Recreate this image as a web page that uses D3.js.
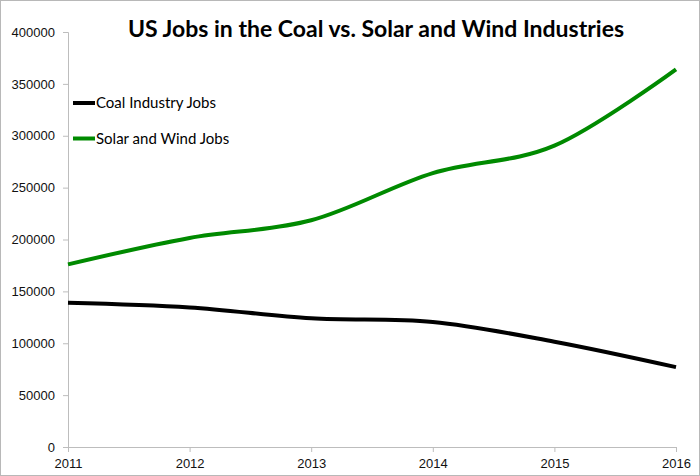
<!DOCTYPE html>
<style>
    body{ margin:0; }
    svg{ font-family:Lato,"Open Sans",sans-serif; }
</style>
<svg width="700" height="476"></svg>
<script src="https://d3js.org/d3.v7.min.js"></script>
<script>
    var years=[2011,2012,2013,2014,2015,2016];
    var coalJobs=[139000,134500,124000,120500,101500,77000];
    var solarWindJobs=[176000,201500,218500,264000,290500,364000];
    var yTicks=[0,50000,100000,150000,200000,250000,300000,350000,400000];
    var seriesNames=["Coal Industry Jobs","Solar and Wind Jobs"];
    var seriesColors=["#000000","#008a00"];

    var svg=d3.select("svg");
    var width=700,height=476;
    var margin={left:68,right:24,top:32,bottom:29};

    svg.append("rect")
        .attr("x",0.5).attr("y",0.5)
        .attr("width",width-1).attr("height",height-1)
        .attr("fill","#fff").attr("stroke","#b8b8b8");

    var x=d3.scaleLinear().domain([2011,2016]).range([margin.left,width-margin.right]);
    var y=d3.scaleLinear().domain([0,400000]).range([height-margin.bottom,margin.top]);

    var xAxis=svg.append("g")
        .attr("transform","translate(0,"+(height-margin.bottom)+")")
        .call(d3.axisBottom(x).tickValues(years).tickFormat(d3.format("d")).tickSizeOuter(0).tickSize(5).tickPadding(4));
    var yAxis=svg.append("g")
        .attr("transform","translate("+margin.left+",0)")
        .call(d3.axisLeft(y).tickValues(yTicks).tickFormat(d3.format("d")).tickSizeOuter(0).tickSize(5).tickPadding(8));

    [xAxis,yAxis].forEach(function(a){
        a.select(".domain").attr("stroke","#bdbdbd");
        a.selectAll(".tick line").attr("stroke","#bdbdbd");
        a.selectAll(".tick text").attr("fill","#111").attr("font-size",13);
    });
    xAxis.selectAll(".tick text").attr("dy","0.9em");

    var line=d3.line()
        .x(function(d,i){ return x(years[i]); })
        .y(function(d){ return y(d); })
        .curve(d3.curveCatmullRom.alpha(0));

    [coalJobs,solarWindJobs].forEach(function(s,i){
        svg.append("path")
            .attr("d",line(s))
            .attr("fill","none")
            .attr("stroke",seriesColors[i])
            .attr("stroke-width",4);
    });

    svg.append("text")
        .attr("x",376).attr("y",37)
        .attr("text-anchor","middle")
        .attr("font-size",23)
        .attr("font-weight","bold")
        .attr("fill","#000")
        .text("US Jobs in the Coal vs. Solar and Wind Industries");

    var legend=svg.selectAll(".legend")
        .data(seriesNames)
        .enter().append("g")
        .attr("transform",function(d,i){ return "translate(73,"+(103+i*35.5)+")"; });
    legend.append("line")
        .attr("x1",0).attr("x2",22)
        .attr("stroke",function(d,i){ return seriesColors[i]; })
        .attr("stroke-width",4);
    legend.append("text")
        .attr("x",23).attr("dy","0.35em")
        .attr("font-size",15)
        .attr("fill","#000")
        .text(function(d){ return d; });
</script>
